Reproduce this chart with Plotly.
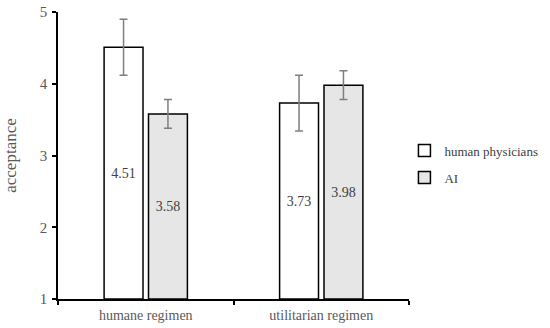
import plotly.graph_objects as go

categories = ["humane regimen", "utilitarian regimen"]
human_vals = [4.51, 3.73]
human_err = [0.39, 0.39]
ai_vals = [3.58, 3.98]
ai_err = [0.20, 0.20]
y_ticks = [1, 2, 3, 4, 5]
axis_floor = 1

font_family = "Liberation Serif, Times New Roman, serif"

fig = go.Figure()
for name, vals, errs, fill, grp in [
    ("human physicians", human_vals, human_err, "white", "a"),
    ("AI", ai_vals, ai_err, "#e6e6e6", "b"),
]:
    fig.add_trace(go.Bar(
        name=name, x=categories, y=[v - axis_floor for v in vals],
        base=axis_floor, legendgroup=grp,
        marker=dict(color=fill, line=dict(color="black", width=1.5)),
        error_y=dict(type="data", array=errs, color="#7f7f7f", thickness=1.5, width=4),
        text=[f"{v:.2f}" for v in vals], textposition="inside",
        insidetextanchor="middle", textangle=0,
        textfont=dict(family=font_family, size=14, color="#404040"),
        cliponaxis=False,
    ))

fig.update_layout(
    width=550, height=328,
    margin=dict(l=58, r=141, t=12, b=29, autoexpand=False),
    paper_bgcolor="white", plot_bgcolor="white",
    barmode="group", bargap=0.494, bargroupgap=0.124,
    font=dict(family=font_family, size=14, color="#595959"),
    showlegend=True,
    legend=dict(x=0.987, y=0.47, xanchor="left", yanchor="middle",
                font=dict(family=font_family, size=13, color="#404040"),
                traceorder="grouped", tracegroupgap=7, bgcolor="rgba(0,0,0,0)"),
    uniformtext=dict(mode=False),
)
fig.update_xaxes(
    showline=True, linecolor="black", linewidth=1.5,
    ticks="outside", tickson="boundaries", ticklen=4, tickcolor="black", tickwidth=1.5,
    ticklabelstandoff=2, ticklabeloverflow="allow",
    showgrid=False, range=[-0.5, 1.5], automargin=False,
    tickfont=dict(family=font_family, size=14, color="#595959"),
)
fig.update_yaxes(
    range=[1, 5], tickvals=y_ticks, ticktext=[str(t) for t in y_ticks],
    showline=True, linecolor="black", linewidth=1.5,
    ticks="outside", ticklen=4, tickcolor="black", tickwidth=1.5,
    ticklabelstandoff=2, ticklabeloverflow="allow",
    showgrid=False, zeroline=False, automargin=False,
    title=dict(text="acceptance", font=dict(family=font_family, size=17, color="#595959"), standoff=19),
    tickfont=dict(family=font_family, size=15, color="#595959"),
)

fig.write_html("out.html", config={"displayModeBar": False},
               post_script="document.body.style.margin='0';")
